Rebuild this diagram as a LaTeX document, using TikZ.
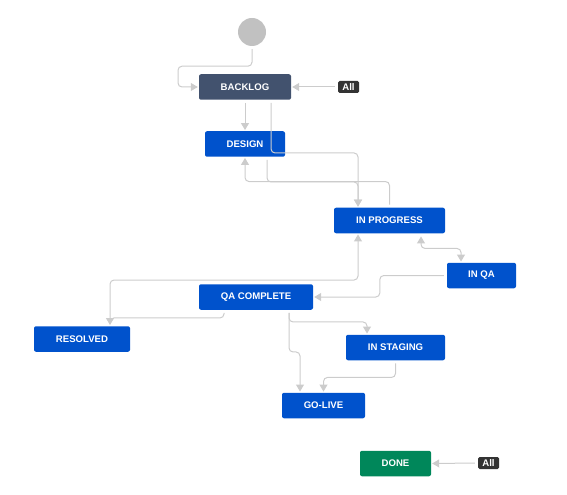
\documentclass[tikz,border=0pt]{standalone}
\usepackage{fontspec}
\setmainfont{Liberation Sans}
\usepackage{xcolor}
\usetikzlibrary{arrows.meta}
\definecolor{startColor}{HTML}{C1C1C1}
\definecolor{nodeColorA}{HTML}{42526E}
\definecolor{nodeColorB}{HTML}{0052CC}
\definecolor{nodeColorC}{HTML}{00875A}
\definecolor{badgeColor}{HTML}{333333}
\definecolor{linkColor}{HTML}{CCCCCC}
\def\textBacklog{BACKLOG}
\def\textDesign{DESIGN}
\def\textProgress{IN PROGRESS}
\def\textQa{IN QA}
\def\textComplete{QA COMPLETE}
\def\textResolved{RESOLVED}
\def\textStaging{IN STAGING}
\def\textLive{GO-LIVE}
\def\textDone{DONE}
\def\textAll{All}
\tikzset{
  status/.style={rectangle, rounded corners=2bp, inner sep=0pt,
    minimum height=25.5bp, text=white,
    font=\fontsize{9.6bp}{11bp}\selectfont\bfseries},
  badge/.style={rectangle, rounded corners=1.5bp, inner sep=0pt,
    minimum width=21bp, minimum height=12bp, fill=badgeColor, text=white,
    font=\fontsize{9.6bp}{11bp}\selectfont\bfseries},
  link/.style={draw=linkColor, line width=1bp, rounded corners=4bp,
    shorten <=3bp, shorten >=1bp},
  tip/.style={-{Triangle[length=7bp, width=8bp, fill=linkColor]}},
  tips/.style={{Triangle[length=7bp, width=8bp, fill=linkColor]}-{Triangle[length=7bp, width=8bp, fill=linkColor]}},
}

\begin{document}
\begin{tikzpicture}[x=1bp,y=-1bp]
\useasboundingbox (0, 0) rectangle (567, 495);

% node layer
\begin{scope}
\node[circle, fill=startColor, inner sep=0pt, minimum size=28bp]
  (start) at (252, 32) {};
\node[status, fill=nodeColorA, minimum width=92bp]
  (backlog) at (245, 87) {\textBacklog};
\node[status, fill=nodeColorB, minimum width=80bp]
  (design) at (245, 144) {\textDesign};
\node[status, fill=nodeColorB, minimum width=111bp]
  (progress) at (389.5, 220.5) {\textProgress};
\node[status, fill=nodeColorB, minimum width=69bp]
  (qa) at (481.5, 275.5) {\textQa};
\node[status, fill=nodeColorB, minimum width=114bp]
  (complete) at (256, 297) {\textComplete};
\node[status, fill=nodeColorB, minimum width=96bp]
  (resolved) at (82, 339) {\textResolved};
\node[status, fill=nodeColorB, minimum width=99bp]
  (staging) at (395.5, 347.5) {\textStaging};
\node[status, fill=nodeColorB, minimum width=83bp]
  (live) at (323.5, 405.5) {\textLive};
\node[status, fill=nodeColorC, minimum width=71bp]
  (done) at (395.5, 463.5) {\textDone};
\node[badge] (allBacklog) at (348.5, 87) {\textAll};
\node[badge] (allDone) at (488.5, 463) {\textAll};
\end{scope}

% link layer
\begin{scope}
\draw[link, tip] (start.south) |- ++(-74, 20) |- (backlog.west);
\draw[link, tip] (allBacklog.west) -- (backlog.east);
\draw[link, tip] (backlog.south) -- (design.north);
\draw[link, tip] ([xshift=26bp]backlog.south) -- ++(0, 53)
  -| ([xshift=-31.5bp]progress.north);
\draw[link, tip] ([xshift=22bp]design.south) -- ++(0, 25)
  -| ([xshift=-31.5bp]progress.north);
\draw[link, tip] (progress.north) -- ++(0, -26) -| (design.south);
\draw[link, tips] ([xshift=31.5bp]progress.south) -- ++(0, 15)
  -| ([xshift=-20.5bp]qa.north);
\draw[link, tip] (qa.west) -- ++(-67, 0) |- (complete.east);
\draw[link, tip] ([xshift=28bp]resolved.north) -- ++(0, -46)
  -| ([xshift=-31.5bp]progress.south);
\draw[link, tip] ([xshift=-32bp]complete.south) -- ++(0, 8)
  -| ([xshift=28bp]resolved.north);
\draw[link, tip] ([xshift=33bp]complete.south) -- ++(0, 12)
  -| ([xshift=-28.5bp]staging.north);
\draw[link, tip] ([xshift=33bp]complete.south) -- ++(0, 42)
  -| ([xshift=-23.5bp]live.north);
\draw[link, tip] (staging.south) -- ++(0, 17) -| (live.north);
\draw[link, tip] (allDone.west) -- (done.east);
\end{scope}

\end{tikzpicture}
\end{document}
